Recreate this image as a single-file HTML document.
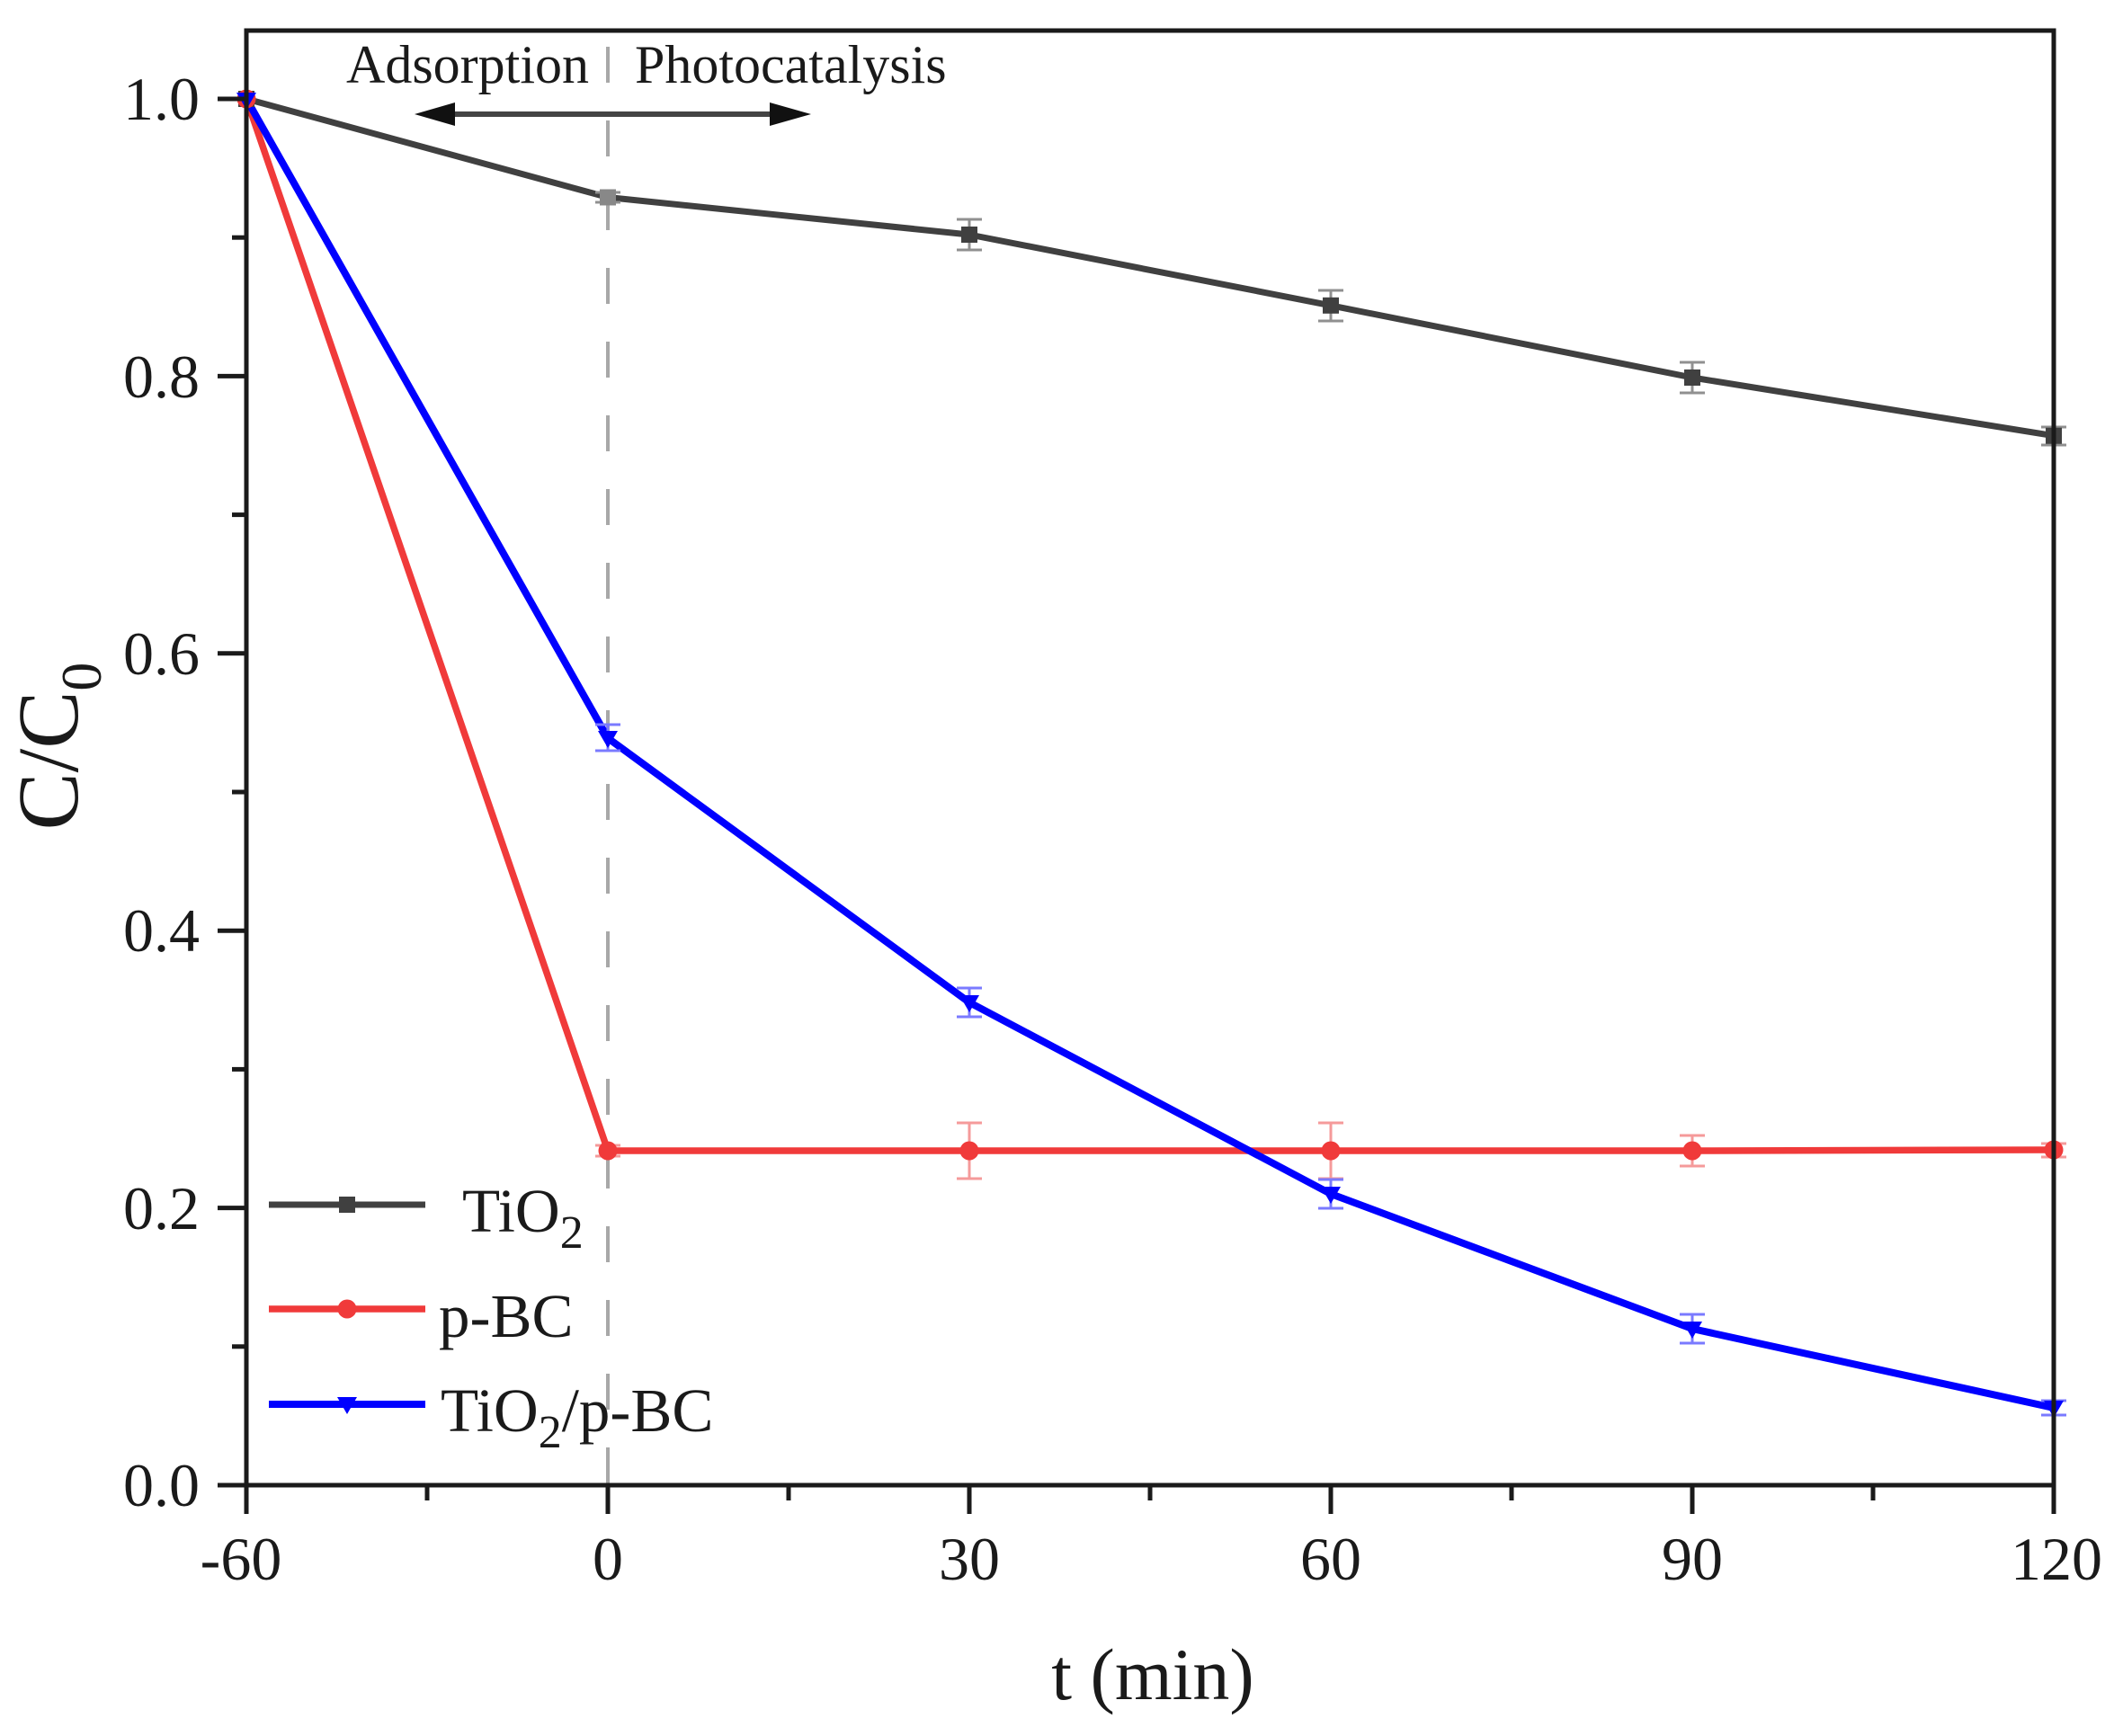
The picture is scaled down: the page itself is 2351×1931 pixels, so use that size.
<!DOCTYPE html>
<html>
<head>
<meta charset="utf-8">
<style>
html,body{margin:0;padding:0;background:#fff;}
svg{display:block;}
text{font-family:"Liberation Serif","Times New Roman",serif;fill:#1a1a1a;}
</style>
</head>
<body>
<svg width="2351" height="1931" viewBox="0 0 2351 1931" xmlns="http://www.w3.org/2000/svg">
<rect width="2351" height="1931" fill="#fff"/>

<!-- dashed separator at t=0 -->
<line x1="676" y1="52" x2="676" y2="1652" stroke="#a8a8a8" stroke-width="4" stroke-dasharray="40 42"/>

<!-- annotation -->
<text x="385" y="92" font-size="60">Adsorption</text>
<text x="706" y="92" font-size="60">Photocatalysis</text>
<line x1="500" y1="127" x2="860" y2="127" stroke="#444" stroke-width="6"/>
<polygon points="461,127 506,114 506,140" fill="#111"/>
<polygon points="902,127 856,114 856,140" fill="#111"/>

<!-- series lines -->
<polyline fill="none" stroke="#404040" stroke-width="7" stroke-linejoin="round"
 points="274,110 676,219.5 1078,261 1480,339.8 1882,420 2284,484.7"/>
<polyline fill="none" stroke="#f03a3a" stroke-width="7.5" stroke-linejoin="round"
 points="274,110 676,1280 1078,1280 1480,1280 1882,1280 2284,1279"/>
<polyline fill="none" stroke="#0000ff" stroke-width="8" stroke-linejoin="round"
 points="274,110 676,821 1078,1115 1480,1328 1882,1478 2284,1566"/>

<!-- error bars gray -->
<g stroke="#909090" stroke-width="3" fill="none">
<path d="M676,214v11M662,214h28M662,225h28"/>
<path d="M1078,244v34M1064,244h28M1064,278h28"/>
<path d="M1480,323v34M1466,323h28M1466,357h28"/>
<path d="M1882,403v34M1868,403h28M1868,437h28"/>
<path d="M2284,475v20M2270,475h28M2270,495h28"/>
</g>
<!-- error bars red -->
<g stroke="#f59a9a" stroke-width="3" fill="none">
<path d="M676,1274v12M662,1274h28M662,1286h28"/>
<path d="M1078,1249v62M1064,1249h28M1064,1311h28"/>
<path d="M1480,1249v62M1466,1249h28M1466,1311h28"/>
<path d="M1882,1263v34M1868,1263h28M1868,1297h28"/>
<path d="M2284,1272v15M2270,1272h28M2270,1287h28"/>
</g>
<!-- error bars blue -->
<g stroke="#7a7aff" stroke-width="3" fill="none">
<path d="M676,806v29M662,806h28M662,835h28"/>
<path d="M1078,1099v32M1064,1099h28M1064,1131h28"/>
<path d="M1480,1312v32M1466,1312h28M1466,1344h28"/>
<path d="M1882,1462v32M1868,1462h28M1868,1494h28"/>
<path d="M2284,1558v16M2270,1558h28M2270,1574h28"/>
</g>

<!-- markers gray squares -->
<g fill="#404040">
<rect x="265" y="101" width="18" height="18"/>
<rect x="667" y="210.5" width="18" height="18" fill="#888"/>
<rect x="1069" y="252" width="18" height="18"/>
<rect x="1471" y="330.8" width="18" height="18"/>
<rect x="1873" y="411" width="18" height="18"/>
<rect x="2275" y="475.7" width="18" height="18"/>
</g>
<!-- red circles -->
<g fill="#f03a3a">
<circle cx="274" cy="110" r="10.5"/>
<circle cx="676" cy="1280" r="10.5"/>
<circle cx="1078" cy="1280" r="10.5"/>
<circle cx="1480" cy="1280" r="10.5"/>
<circle cx="1882" cy="1280" r="10.5"/>
<circle cx="2284" cy="1279" r="10.5"/>
</g>
<!-- blue down triangles -->
<g fill="#0000ff">
<polygon points="263,103 285,103 274,122"/>
<polygon points="665,813 687,813 676,832"/>
<polygon points="1067,1107 1089,1107 1078,1126"/>
<polygon points="1469,1320 1491,1320 1480,1339"/>
<polygon points="1871,1470 1893,1470 1882,1489"/>
<polygon points="2273,1558 2295,1558 2284,1577"/>
</g>

<!-- frame -->
<rect x="274" y="34" width="2010" height="1618" fill="none" stroke="#1a1a1a" stroke-width="5"/>

<!-- y ticks -->
<g stroke="#1a1a1a" stroke-width="5">
<line x1="242" y1="1652" x2="274" y2="1652"/>
<line x1="242" y1="1343.6" x2="274" y2="1343.6"/>
<line x1="242" y1="1035.2" x2="274" y2="1035.2"/>
<line x1="242" y1="726.8" x2="274" y2="726.8"/>
<line x1="242" y1="418.4" x2="274" y2="418.4"/>
<line x1="242" y1="110" x2="274" y2="110"/>
<line x1="258" y1="1497.8" x2="274" y2="1497.8"/>
<line x1="258" y1="1189.4" x2="274" y2="1189.4"/>
<line x1="258" y1="881" x2="274" y2="881"/>
<line x1="258" y1="572.6" x2="274" y2="572.6"/>
<line x1="258" y1="264.2" x2="274" y2="264.2"/>
</g>
<!-- x ticks -->
<g stroke="#1a1a1a" stroke-width="5">
<line x1="274" y1="1652" x2="274" y2="1684"/>
<line x1="676" y1="1652" x2="676" y2="1684"/>
<line x1="1078" y1="1652" x2="1078" y2="1684"/>
<line x1="1480" y1="1652" x2="1480" y2="1684"/>
<line x1="1882" y1="1652" x2="1882" y2="1684"/>
<line x1="2284" y1="1652" x2="2284" y2="1684"/>
<line x1="475" y1="1652" x2="475" y2="1669"/>
<line x1="877" y1="1652" x2="877" y2="1669"/>
<line x1="1279" y1="1652" x2="1279" y2="1669"/>
<line x1="1681" y1="1652" x2="1681" y2="1669"/>
<line x1="2083" y1="1652" x2="2083" y2="1669"/>
</g>

<!-- y tick labels -->
<g font-size="68" text-anchor="end">
<text x="222" y="1675">0.0</text>
<text x="222" y="1367">0.2</text>
<text x="222" y="1058">0.4</text>
<text x="222" y="750">0.6</text>
<text x="222" y="442">0.8</text>
<text x="222" y="133">1.0</text>
</g>
<!-- x tick labels -->
<g font-size="68" text-anchor="middle">
<text x="268" y="1757">-60</text>
<text x="676" y="1757">0</text>
<text x="1078" y="1757">30</text>
<text x="1480" y="1757">60</text>
<text x="1882" y="1757">90</text>
<text x="2287" y="1757">120</text>
</g>

<!-- axis titles -->
<text x="1282" y="1890" font-size="82" text-anchor="middle">t (min)</text>
<text transform="translate(86,830) rotate(-90)" font-size="96" text-anchor="middle">C/C<tspan font-size="64" dy="26">0</tspan></text>

<!-- legend -->
<line x1="299" y1="1340" x2="473" y2="1340" stroke="#404040" stroke-width="7"/>
<rect x="377" y="1331" width="18" height="18" fill="#404040"/>
<text x="514" y="1370" font-size="69">TiO<tspan font-size="52" dy="18">2</tspan></text>

<line x1="299" y1="1456" x2="473" y2="1456" stroke="#f03a3a" stroke-width="7.5"/>
<circle cx="386" cy="1456" r="10.5" fill="#f03a3a"/>
<text x="488" y="1487" font-size="69">p-BC</text>

<line x1="299" y1="1562" x2="473" y2="1562" stroke="#0000ff" stroke-width="8"/>
<polygon points="375,1554 397,1554 386,1573" fill="#0000ff"/>
<text x="490" y="1592" font-size="69">TiO<tspan font-size="52" dy="18">2</tspan><tspan dy="-18">/p-BC</tspan></text>
</svg>
</body>
</html>
